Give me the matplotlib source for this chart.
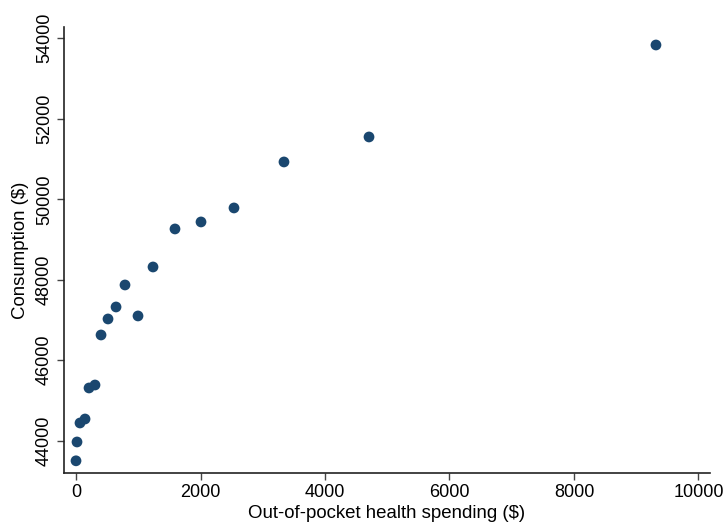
import matplotlib
matplotlib.use("Agg")
import matplotlib.pyplot as plt

plt.rcParams['font.family'] = ['Liberation Sans', 'DejaVu Sans']

oop_spending = [0, 16, 64, 145, 209, 305, 402, 514, 643, 787, 996, 1237, 1590, 2008, 2538, 3341, 4707, 9317]
consumption = [43500, 43968, 44440, 44539, 45310, 45384, 46627, 47025, 47323, 47870, 47100, 48317, 49262, 49436, 49784, 50927, 51548, 53834]
x_ticks = [0, 2000, 4000, 6000, 8000, 10000]
y_ticks = [44000, 46000, 48000, 50000, 52000, 54000]

fig = plt.figure(figsize=(7.28, 5.23), dpi=100)
ax = fig.add_axes([64/728, 50/523, 646/728, 446/523])
ax.scatter(oop_spending, consumption, s=60, color='#1a476f', edgecolors='none', zorder=3)
ax.set_xlim(-193, 10185)
ax.set_ylim(43197, 54281)
ax.set_xticks(x_ticks)
ax.set_yticks(y_ticks)
ax.set_xticklabels([str(v) for v in x_ticks])
ax.set_yticklabels([str(v) for v in y_ticks], rotation=90, va='center')
for s in ['top', 'right']:
    ax.spines[s].set_visible(False)
for s in ['left', 'bottom']:
    ax.spines[s].set_linewidth(1.2)
    ax.spines[s].set_color('#222222')
ax.tick_params(axis='both', direction='out', length=5, width=1.0, color='#444444', labelsize=13, pad=3)
ax.set_xlabel('Out-of-pocket health spending ($)', fontsize=13.4, labelpad=3)
ax.set_ylabel('Consumption ($)', fontsize=13.4, labelpad=5)
fig.savefig('out.png', dpi=100)
